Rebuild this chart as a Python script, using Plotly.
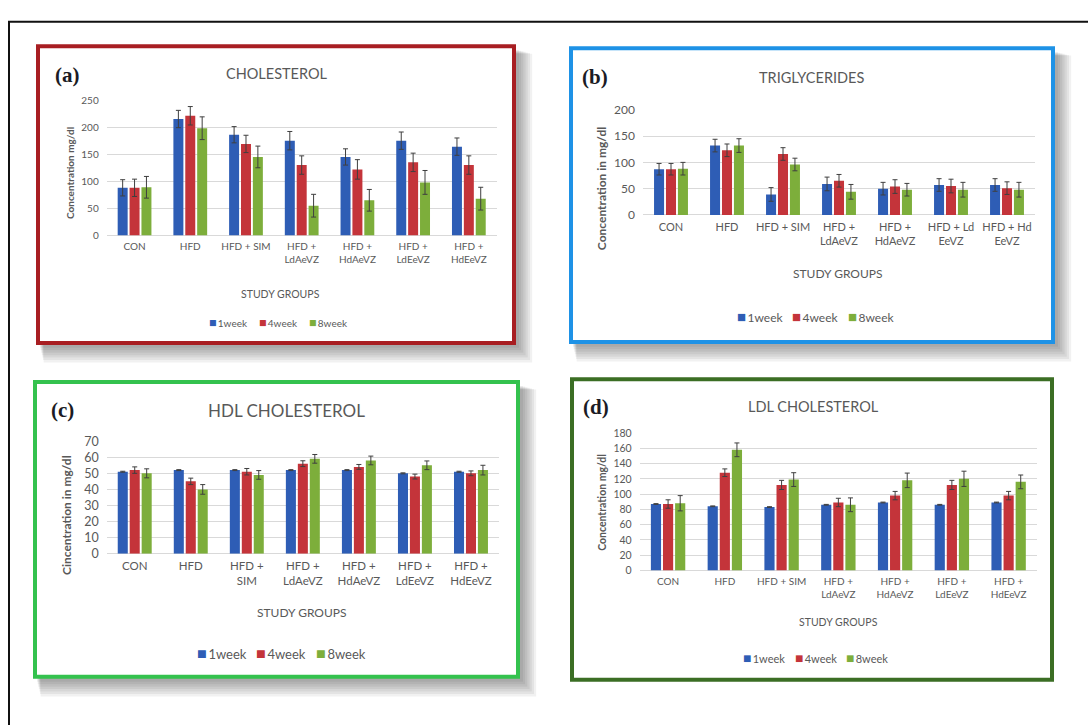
import plotly.graph_objects as go

W, H = 1088, 725

def px(x):
    return x / W

def py(y):
    return 1 - y / H

# ---------------- DATA ----------------
groups = ["CON", "HFD", "HFD + SIM", "HFD + LdAeVZ", "HFD + HdAeVZ", "HFD + LdEeVZ", "HFD + HdEeVZ"]
weeks = ["1week", "4week", "8week"]

labels_a = ["CON", "HFD", "HFD + SIM", "HFD +<br>LdAeVZ", "HFD +<br>HdAeVZ", "HFD +<br>LdEeVZ", "HFD +<br>HdEeVZ"]
labels_b = ["CON", "HFD", "HFD + SIM", "HFD +<br>LdAeVZ", "HFD +<br>HdAeVZ", "HFD + Ld<br>EeVZ", "HFD + Hd<br>EeVZ"]
labels_c = ["CON", "HFD", "HFD +<br>SIM", "HFD +<br>LdAeVZ", "HFD +<br>HdAeVZ", "HFD +<br>LdEeVZ", "HFD +<br>HdEeVZ"]
labels_d = ["CON", "HFD", "HFD + SIM", "HFD +<br>LdAeVZ", "HFD +<br>HdAeVZ", "HFD +<br>LdEeVZ", "HFD +<br>HdEeVZ"]

# (a) Cholesterol
chol_1w = [88, 215, 186, 175, 145, 175, 164]
chol_4w = [88, 221, 169, 130, 122, 135, 130]
chol_8w = [89, 198, 145, 55, 65, 98, 68]
chol_err_1w = [15, 16, 15, 17, 15, 16, 16]
chol_err_4w = [16, 17, 16, 17, 18, 17, 17]
chol_err_8w = [20, 21, 20, 21, 20, 22, 21]

# (b) Triglycerides
tg_1w = [87, 132, 39, 59, 50, 57, 57]
tg_4w = [87, 123, 116, 65, 54, 55, 51]
tg_8w = [88, 132, 96, 44, 48, 48, 48]
tg_err_1w = [11, 12, 13, 13, 12, 12, 12]
tg_err_4w = [11, 12, 12, 12, 13, 13, 12]
tg_err_8w = [12, 13, 12, 14, 12, 14, 14]

# (c) HDL cholesterol
hdl_1w = [51, 52, 52, 52, 52, 50, 51]
hdl_4w = [52, 45, 51, 56, 54, 48, 50]
hdl_8w = [50, 40, 49, 59, 58, 55, 52]
hdl_err_1w = [0.3, 0.3, 0.3, 0.3, 0.3, 0.3, 0.3]
hdl_err_4w = [2, 2, 2, 1.8, 1.5, 1.5, 1.5]
hdl_err_8w = [2.8, 3, 2.7, 2.7, 2.7, 2.7, 3]

# (d) LDL cholesterol
ldl_1w = [87, 84, 83, 86, 89, 86, 89]
ldl_4w = [87, 128, 112, 89, 98, 112, 98]
ldl_8w = [88, 158, 119, 86, 118, 120, 116]
ldl_err_1w = [0.5, 0.5, 0.5, 0.5, 0.5, 0.5, 0.5]
ldl_err_4w = [5.5, 5, 6, 5.5, 5.5, 6, 5.5]
ldl_err_8w = [10, 9, 9, 9, 9.5, 10, 9]

colors = ["#2E5DB5", "#C4343A", "#7DAE3B"]
TXT = "#595959"
FONT = "Lato"

panels = [
    dict(key="a", vals=[chol_1w, chol_4w, chol_8w], errs=[chol_err_1w, chol_err_4w, chol_err_8w],
         labels=labels_a, xr=(106.7, 496.7), yr=(232.3, 94), ymax=250, dtick=50,
         tickfs=10, ytickfs=10, title="CHOLESTEROL", title_xy=(277, 67), title_fs=14.5,
         tag_xy=(67, 68), ytitle="Concentration mg/dl", ytitle_xy=(70, 168.5), ytitle_fs=10,
         sg_xy=(280, 292), sg_fs=10.5, leg_x=[207, 257, 307], leg_y=321, leg_fs=10,
         border=(36, 37, 516, 344), bcolor="#A81E22", shadow=True),
    dict(key="b", vals=[tg_1w, tg_4w, tg_8w], errs=[tg_err_1w, tg_err_4w, tg_err_8w],
         labels=labels_b, xr=(643, 1035), yr=(211.3, 104), ymax=200, dtick=50,
         tickfs=11, ytickfs=12, title="TRIGLYCERIDES", title_xy=(811.7, 71), title_fs=14.5,
         tag_xy=(595, 70), ytitle="Concentration in mg/dl", ytitle_xy=(601, 185), ytitle_fs=12,
         sg_xy=(838, 271), sg_fs=12, leg_x=[735, 790, 846], leg_y=314, leg_fs=12,
         border=(569, 39, 1055, 343), bcolor="#1E92E6", shadow=True),
    dict(key="c", vals=[hdl_1w, hdl_4w, hdl_8w], errs=[hdl_err_1w, hdl_err_4w, hdl_err_8w],
         labels=labels_c, xr=(106.7, 499), yr=(557.3, 442.3), ymax=70, dtick=10,
         tickfs=11.5, ytickfs=12.5, title="HDL CHOLESTEROL", title_xy=(286.7, 411), title_fs=17,
         tag_xy=(62.5, 411), ytitle="Cincentration in mg/dl", ytitle_xy=(66.7, 518), ytitle_fs=12,
         sg_xy=(301.7, 617), sg_fs=12, leg_x=[195, 254, 314], leg_y=658, leg_fs=13,
         border=(33, 380, 520, 685), bcolor="#34C24E", shadow=True),
    dict(key="d", vals=[ldl_1w, ldl_4w, ldl_8w], errs=[ldl_err_1w, ldl_err_4w, ldl_err_8w],
         labels=labels_d, xr=(639.7, 1037), yr=(574.3, 434), ymax=180, dtick=20,
         tickfs=10, ytickfs=10.5, title="LDL CHOLESTEROL", title_xy=(813, 406.7), title_fs=14.5,
         tag_xy=(596, 407), ytitle="Concentration mg/dl", ytitle_xy=(601.3, 505), ytitle_fs=10.5,
         sg_xy=(838, 626.7), sg_fs=10.5, leg_x=[741, 793, 844], leg_y=663, leg_fs=11,
         border=(570, 377, 1054, 688), bcolor="#3B6E24", shadow=False),
]

fig = go.Figure()
shapes = []
annotations = []
layout_axes = {}

# outer black frame
shapes.append(dict(type="rect", xref="paper", yref="paper", x0=px(9), x1=px(1095), y0=py(14), y1=py(735),
                   line=dict(color="#111111", width=2), fillcolor="rgba(0,0,0,0)", layer="below"))

for i, p in enumerate(panels):
    n = i + 1
    xa = "x" if n == 1 else f"x{n}"
    ya = "y" if n == 1 else f"y{n}"
    xname = "xaxis" if n == 1 else f"xaxis{n}"
    yname = "yaxis" if n == 1 else f"yaxis{n}"

    # shadow + panel frame
    x0, y0, x1, y1 = p["border"]
    if p["shadow"]:
        for k in range(7):
            shapes.append(dict(type="rect", xref="paper", yref="paper",
                               x0=px(x0 + 4 + k * 0.6), x1=px(x1 + 3 + k * 2.2),
                               y0=py(y1 + 3 + k * 2.5), y1=py(y0 + 6 + k * 0.6),
                               line=dict(width=0), fillcolor="rgba(0,0,0,0.055)", layer="below"))
    shapes.append(dict(type="rect", xref="paper", yref="paper", x0=px(x0 + 2), x1=px(x1 - 2),
                       y0=py(y1 - 2), y1=py(y0 + 2), line=dict(color=p["bcolor"], width=4),
                       fillcolor="white", layer="below"))

    for j in range(3):
        fig.add_trace(go.Bar(
            x=groups, y=p["vals"][j], name=weeks[j], marker=dict(color=colors[j], line=dict(width=0)),
            error_y=dict(type="data", array=p["errs"][j], visible=True, color="#3F3F3F", thickness=1, width=2.5),
            xaxis=xa, yaxis=ya, showlegend=False,
        ))

    layout_axes[xname] = dict(domain=[px(p["xr"][0]), px(p["xr"][1])], anchor=ya, type="category",
                              tickvals=groups, ticktext=p["labels"], showgrid=False, showline=False,
                              zeroline=False, ticks="", tickangle=0, ticklabelstandoff=4,
                              tickfont=dict(family=FONT, size=p["tickfs"], color=TXT))
    layout_axes[yname] = dict(domain=[py(p["yr"][0]), py(p["yr"][1])], anchor=xa, range=[0, p["ymax"]],
                              dtick=p["dtick"], showgrid=True, gridcolor="#D9D9D9", gridwidth=1,
                              zeroline=True, zerolinecolor="#D9D9D9", zerolinewidth=1, showline=False,
                              ticks="", ticklabelstandoff=7,
                              tickfont=dict(family=FONT, size=p["ytickfs"], color=TXT))

    # title
    annotations.append(dict(xref="paper", yref="paper", x=px(p["title_xy"][0]), y=py(p["title_xy"][1]),
                            text=p["title"], showarrow=False, xanchor="center", yanchor="middle",
                            font=dict(family=FONT, size=p["title_fs"], color=TXT)))
    # panel tag
    annotations.append(dict(xref="paper", yref="paper", x=px(p["tag_xy"][0]), y=py(p["tag_xy"][1]),
                            text=f"<b>({p['key']})</b>", showarrow=False, xanchor="center", yanchor="middle",
                            font=dict(family="Liberation Serif", size=21, color="#1B1B24")))
    # y-axis title
    annotations.append(dict(xref="paper", yref="paper", x=px(p["ytitle_xy"][0]), y=py(p["ytitle_xy"][1]),
                            text=f"<b>{p['ytitle']}</b>", showarrow=False, textangle=-90,
                            xanchor="center", yanchor="middle",
                            font=dict(family=FONT, size=p["ytitle_fs"], color=TXT)))
    # x-axis title
    annotations.append(dict(xref="paper", yref="paper", x=px(p["sg_xy"][0]), y=py(p["sg_xy"][1]),
                            text="STUDY GROUPS", showarrow=False, xanchor="center", yanchor="middle",
                            font=dict(family=FONT, size=p["sg_fs"], color=TXT)))
    # legend
    gs = round(p["leg_fs"] * 1.25, 1)
    for j in range(3):
        annotations.append(dict(xref="paper", yref="paper", x=px(p["leg_x"][j]), y=py(p["leg_y"]),
                                text=f"<span style='color:{colors[j]};font-size:{gs}px'>■</span>\u2009{weeks[j]}",
                                showarrow=False, xanchor="left", yanchor="middle",
                                font=dict(family=FONT, size=p["leg_fs"], color=TXT)))

fig.update_layout(
    width=W, height=H, autosize=False,
    margin=dict(l=0, r=0, t=0, b=0, pad=0),
    paper_bgcolor="white", plot_bgcolor="rgba(0,0,0,0)",
    barmode="group", bargap=0.36, bargroupgap=0.16,
    showlegend=False,
    shapes=shapes, annotations=annotations,
    **layout_axes,
)

fig.write_html("out.html")
